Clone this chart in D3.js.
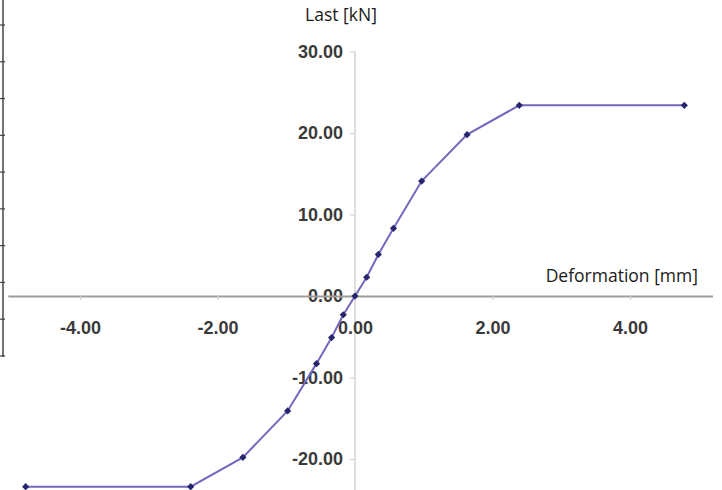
<!DOCTYPE html>
<html>
<head>
<meta charset="utf-8">
<script src="https://cdn.jsdelivr.net/npm/d3@7"></script>
<style>
  body { margin: 0; background: #fff; }
  svg { display: block; }
</style>
</head>
<body>
<svg class="chart"></svg>
<script>
var W = 722, H = 490;

// load / deformation curve
var deformation = [-4.79, -2.39, -1.63, -0.98, -0.56, -0.34, -0.17, 0, 0.17, 0.34, 0.56, 0.97, 1.63, 2.39, 4.79];
var load = [-23.4, -23.4, -19.8, -14.1, -8.3, -5.1, -2.3, 0, 2.3, 5.1, 8.3, 14.1, 19.8, 23.4, 23.4];
var xTicks = [-4, -2, 0, 2, 4];
var yTicks = [-20, -10, 0, 10, 20, 30];
var tableRows = [0, 1, 2, 3, 4, 5, 6, 7, 8, 9];

var svg = d3.select('.chart').attr('width', W).attr('height', H);

var x = d3.scaleLinear().domain([-5.05, 5.2]).range([7.8, 712.5]);
var y = d3.scaleLinear().domain([-24, 30]).range([491.6, 51.5]);

function fmt(d) { return d.toFixed(2); }

// clipped table border at the left edge
var rowY = d3.scaleLinear().domain([0, 9]).range([25, 356]);
svg.append('line').attr('x1', 3).attr('x2', 3).attr('y1', 0).attr('y2', 357)
  .attr('stroke', '#444').attr('stroke-width', 1.5);
svg.selectAll('.rowtick').data(tableRows).enter().append('line')
  .attr('class', 'rowtick')
  .attr('x1', 0).attr('x2', 5)
  .attr('y1', function(d) { return rowY(d); }).attr('y2', function(d) { return rowY(d); })
  .attr('stroke', '#444').attr('stroke-width', 1.2);

// y axis
var yAxis = svg.append('g')
  .attr('transform', 'translate(' + x(0) + ',0)')
  .call(d3.axisLeft(y).tickValues(yTicks).tickSize(5).tickSizeOuter(0).tickPadding(7).tickFormat(fmt));
yAxis.select('.domain').attr('stroke', '#d4d4d4').attr('stroke-width', 1.5)
  .attr('d', 'M0,' + y(30) + 'V' + H);
yAxis.selectAll('.tick line').attr('stroke', '#d4d4d4').attr('stroke-width', 1.2);
yAxis.selectAll('.tick text')
  .attr('x', -12)
  .attr('font-family', 'Liberation Sans, Arial, sans-serif')
  .attr('font-weight', 'bold').attr('font-size', 18).attr('fill', '#3a3a3a')
  .attr('stroke', '#fff').attr('stroke-width', 3).attr('paint-order', 'stroke');

// x axis
var xAxis = svg.append('g')
  .attr('transform', 'translate(0,' + y(0) + ')')
  .call(d3.axisBottom(x).tickValues(xTicks).tickSize(4).tickSizeOuter(0).tickPadding(21).tickFormat(fmt));
xAxis.select('.domain').attr('stroke', '#a39b9b').attr('stroke-width', 2);
xAxis.selectAll('.tick line').attr('stroke', '#d0d0d0').attr('stroke-width', 1.2);
xAxis.selectAll('.tick text')
  .attr('font-family', 'Liberation Sans, Arial, sans-serif')
  .attr('font-weight', 'bold').attr('font-size', 18).attr('fill', '#3a3a3a');

// axis titles
svg.append('text').attr('x', 341).attr('y', 21).attr('text-anchor', 'middle')
  .attr('font-family', 'Open Sans, sans-serif').attr('font-size', 17.5).attr('fill', '#1a1a1a')
  .text('Last [kN]');
svg.append('text').attr('x', 698).attr('y', 282).attr('text-anchor', 'end')
  .attr('font-family', 'Open Sans, sans-serif').attr('font-size', 17.5).attr('fill', '#1a1a1a')
  .text('Deformation [mm]');

var pts = deformation.map(function(d, i) { return [d, load[i]]; });

var line = d3.line()
  .x(function(d) { return x(d[0]); })
  .y(function(d) { return y(d[1]); });

svg.append('path').datum(pts)
  .attr('fill', 'none').attr('stroke', '#7467bd').attr('stroke-width', 2)
  .attr('d', line);

svg.selectAll('.pt').data(pts).enter().append('path')
  .attr('class', 'pt')
  .attr('transform', function(d) { return 'translate(' + x(d[0]) + ',' + y(d[1]) + ') rotate(45)'; })
  .attr('d', d3.symbol().type(d3.symbolSquare).size(26))
  .attr('fill', '#26266e');
</script>
</body>
</html>
